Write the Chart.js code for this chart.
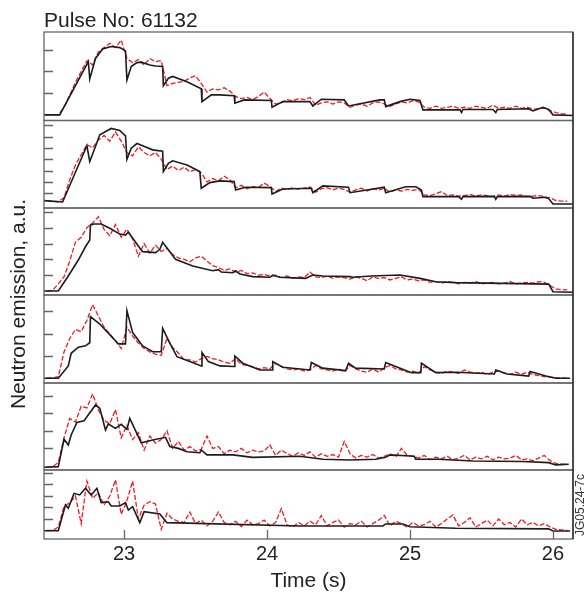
<!DOCTYPE html>
<html>
<head>
<meta charset="utf-8">
<script src="https://cdn.jsdelivr.net/npm/chart.js@4.4.1/dist/chart.umd.min.js"></script>
<style>
html,body{margin:0;padding:0;background:#fff;}
#wrap{position:relative;width:585px;height:592px;}
</style>
</head>
<body>
<div id="wrap"><canvas id="c" width="585" height="592"></canvas></div>
<script>
// ---------- DATA ----------
const pulseTitle = 'Pulse No: 61132';
const xTickValues = [23, 24, 25, 26];

// sampling times of the measured (red dashed) traces
const measTimes = [
22.46,22.50,22.54,22.58,22.62,22.66,22.70,22.74,22.78,22.82,
22.86,22.90,22.94,22.98,23.02,23.06,23.10,23.14,23.18,23.22,
23.26,23.30,23.34,23.38,23.42,23.46,23.50,23.54,23.58,23.62,
23.66,23.70,23.74,23.78,23.82,23.86,23.90,23.94,23.98,24.02,
24.06,24.10,24.14,24.18,24.22,24.26,24.30,24.34,24.38,24.42,
24.46,24.50,24.54,24.58,24.62,24.66,24.70,24.74,24.78,24.82,
24.86,24.90,24.94,24.98,25.02,25.06,25.10,25.14,25.18,25.22,
25.26,25.30,25.34,25.38,25.42,25.46,25.50,25.54,25.58,25.62,
25.66,25.70,25.74,25.78,25.82,25.86,25.90,25.94,25.98,26.02,
26.06,26.10];

// Panel 1
const p1ModelT = [22.44,22.55,22.75,22.76,22.80,22.85,22.91,22.97,23.01,23.02,23.05,23.09,23.12,23.18,23.22,23.27,23.275,23.31,23.34,23.44,23.54,23.545,23.61,23.67,23.77,23.775,23.84,24.03,24.035,24.11,24.30,24.32,24.38,24.54,24.57,24.79,24.82,24.83,24.93,25.00,25.07,25.09,25.35,25.36,25.37,25.58,25.60,25.61,25.83,25.86,25.93,25.97,26.00,26.14];
const p1ModelV = [0,0,2.46,1.65,2.6,3.04,3.15,3.1,2.95,1.61,2.23,2.41,2.43,2.3,2.25,2.23,1.34,1.69,1.77,1.53,1.2,0.61,0.92,0.92,0.88,0.54,0.69,0.66,0.35,0.61,0.61,0.41,0.72,0.69,0.41,0.69,0.69,0.38,0.61,0.72,0.66,0.23,0.23,0.11,0.25,0.25,0.11,0.25,0.28,0.18,0.35,0.25,0,-0.03];
const p1Meas = [
0,0,0,0.35,0.9,1.5,2.0,2.5,2.3,2.9,
3.1,3.3,3.1,3.45,2.6,2.4,2.55,2.3,2.6,2.45,
2.5,1.35,1.45,1.5,1.55,1.7,1.8,1.45,1.05,1.2,
1.15,1.25,1.1,0.85,0.75,0.8,0.7,0.85,1.05,0.75,
0.5,0.55,0.7,0.65,0.75,0.7,0.8,0.45,0.55,0.6,
0.5,0.6,0.55,0.35,0.45,0.5,0.4,0.55,0.6,0.5,
0.4,0.5,0.6,0.55,0.65,0.6,0.35,0.3,0.4,0.3,
0.35,0.4,0.3,0.35,0.3,0.4,0.35,0.3,0.45,0.3,
0.35,0.3,0.4,0.3,0.35,0.25,0.3,0.3,0.2,0.1,
0.05,0.05];

// Panel 2
const p2ModelT = [22.44,22.57,22.74,22.76,22.80,22.83,22.91,22.97,23.01,23.02,23.05,23.09,23.13,23.20,23.27,23.275,23.31,23.34,23.44,23.53,23.54,23.60,23.67,23.77,23.78,23.85,24.03,24.035,24.11,24.31,24.32,24.39,24.57,24.58,24.82,24.83,24.97,25.04,25.08,25.09,25.34,25.36,25.37,25.59,25.60,25.61,25.84,25.86,25.94,25.97,26.00,26.14];
const p2ModelV = [0.35,0.23,5.19,3.8,5.12,6.16,6.72,6.54,6.07,4.0,4.98,5.39,5.19,4.83,4.72,2.91,3.65,3.86,3.5,2.91,1.44,1.94,2.09,2.03,1.29,1.53,1.5,0.94,1.38,1.44,1.05,1.65,1.53,1.05,1.53,1.05,1.58,1.58,1.29,0.7,0.7,0.47,0.7,0.73,0.47,0.7,0.73,0.56,0.65,0.53,0.05,0.05];
const p2Meas = [
0.35,0.3,0.25,0.6,2.2,3.5,4.4,5.3,5.0,5.7,
6.1,5.6,6.4,5.6,4.6,4.3,5.1,4.6,4.3,4.6,
4.0,3.1,3.4,3.0,3.3,2.9,3.1,2.8,2.0,2.3,
2.1,2.5,2.2,1.5,1.7,1.4,1.6,1.5,1.9,1.6,
1.15,1.45,1.3,1.5,1.35,1.45,1.55,1.1,1.4,1.5,
1.3,1.45,1.35,1.1,1.3,1.45,1.2,1.4,1.3,1.45,
1.1,1.3,1.2,1.35,1.25,1.35,0.85,0.8,0.95,1.15,
0.8,0.85,0.75,0.8,0.9,0.75,0.85,0.8,0.7,0.85,
0.75,0.9,0.8,0.85,0.7,0.75,0.8,0.7,0.6,0.35,
0.3,0.3];

// Panel 3
const p3ModelT = [22.44,22.54,22.61,22.68,22.73,22.76,22.765,22.79,22.84,22.90,22.97,23.01,23.03,23.12,23.13,23.22,23.25,23.27,23.36,23.48,23.62,23.66,23.68,23.76,23.78,23.81,23.90,24.02,24.04,24.09,24.27,24.32,24.39,24.58,24.60,24.73,24.93,25.07,25.18,25.32,25.97,26.00,26.14];
const p3ModelV = [0,0,0.95,1.96,2.8,3.23,4.18,4.24,4.24,3.97,3.6,3.54,3.72,2.59,2.49,2.43,2.64,3.08,2.01,1.58,1.28,1.35,1.2,1.16,1.28,1.08,0.91,0.87,1.0,0.87,0.8,1.01,0.95,0.91,0.87,0.95,1.01,0.8,0.59,0.53,0.44,-0.04,-0.08];
const p3Meas = [
0,0.05,0.45,0.9,1.9,3.1,3.4,4.0,4.3,4.7,
3.9,3.5,4.2,3.4,3.9,3.3,2.2,3.0,2.4,2.9,
2.5,2.7,2.3,2.1,2.0,1.85,2.1,2.2,1.9,1.6,
1.5,1.3,1.4,1.2,1.3,1.1,1.15,1.0,1.05,0.95,
1.0,0.85,0.95,0.8,0.9,0.85,1.2,0.9,0.85,0.95,
0.8,0.9,0.85,0.75,0.9,0.8,0.65,0.9,0.8,0.85,
0.7,0.8,0.9,0.7,0.75,0.65,0.7,0.55,0.6,0.5,
0.6,0.55,0.45,0.55,0.5,0.6,0.45,0.5,0.55,0.45,
0.5,0.6,0.45,0.5,0.55,0.5,0.6,0.55,0.35,0.12,
0.1,0.08];

// Panel 4
const p4ModelT = [22.44,22.54,22.61,22.63,22.68,22.73,22.76,22.765,22.83,22.96,23.01,23.02,23.06,23.13,23.20,23.26,23.27,23.32,23.37,23.46,23.54,23.545,23.59,23.67,23.77,23.775,23.83,23.95,24.035,24.04,24.11,24.30,24.31,24.39,24.55,24.57,24.62,24.82,24.83,24.90,25.01,25.075,25.08,25.18,25.33,25.59,25.60,25.68,25.83,25.84,25.95,26.02,26.12];
const p4ModelV = [0.03,0.03,0.58,1.14,1.41,1.47,1.61,2.77,2.44,1.56,1.56,3.04,2.06,1.47,1.21,1.21,2.25,1.59,0.99,0.77,0.58,1.17,0.77,0.58,0.55,1.02,0.7,0.4,0.4,0.77,0.52,0.4,0.73,0.48,0.37,0.7,0.48,0.44,0.73,0.55,0.28,0.28,0.7,0.28,0.3,0.22,0.4,0.22,0.13,0.33,0.13,0.03,0.03];
const p4Meas = [
0.05,0.05,0.1,1.2,1.8,2.2,2.1,2.6,3.3,2.8,
2.3,2.0,1.7,1.35,2.3,1.9,1.6,1.35,1.2,1.1,
1.05,1.8,1.4,1.15,0.85,0.85,0.75,0.9,1.0,0.9,
0.85,0.75,0.7,0.9,0.65,0.6,0.55,0.45,0.5,0.45,
0.7,0.55,0.45,0.4,0.45,0.35,0.4,0.6,0.45,0.4,
0.35,0.45,0.3,0.6,0.45,0.35,0.3,0.45,0.3,0.5,
0.6,0.45,0.4,0.3,0.35,0.25,0.55,0.4,0.3,0.25,
0.35,0.3,0.25,0.4,0.3,0.25,0.3,0.2,0.3,0.35,
0.25,0.2,0.3,0.2,0.3,0.2,0.15,0.1,0.08,0.05,
0.05,0.03];

// Panel 5
const p5ModelT = [22.44,22.54,22.58,22.61,22.63,22.67,22.72,22.80,22.83,22.87,22.89,22.94,22.98,23.02,23.04,23.12,23.20,23.29,23.32,23.38,23.44,23.53,23.54,23.58,23.76,23.90,24.23,24.39,24.58,24.76,24.83,24.86,25.00,25.03,25.04,25.20,25.44,25.79,25.97,26.02,26.11];
const p5ModelV = [-0.07,-0.04,1.52,1.19,1.76,2.48,2.57,3.47,3.28,2.05,2.39,2.14,2.37,2.08,2.71,1.32,1.48,1.63,1.1,1.0,0.81,0.75,0.91,0.63,0.63,0.49,0.55,0.38,0.34,0.38,0.49,0.63,0.57,0.55,0.38,0.38,0.28,0.25,0.19,0.06,0.1];
const p5Meas = [
-0.05,-0.05,0.2,1.6,2.7,2.5,3.4,3.3,4.1,3.2,
2.6,2.4,3.2,1.6,2.3,1.5,1.9,0.9,1.7,1.3,
1.5,2.0,1.0,1.4,0.9,1.1,0.85,0.95,1.7,1.0,
1.1,0.7,0.9,0.8,1.0,0.75,0.9,0.8,0.85,1.2,
0.6,0.9,0.7,0.55,0.75,0.6,0.8,0.5,0.7,0.55,
0.65,0.5,1.4,0.7,0.45,0.6,0.5,0.65,0.45,0.55,
0.7,0.5,1.0,0.6,0.55,0.45,0.6,0.35,0.5,0.4,
0.55,0.35,0.45,0.6,0.35,0.5,0.4,0.55,0.35,0.5,
0.4,0.45,0.6,0.35,0.4,0.3,0.45,0.6,0.3,0.15,
0.1,0.1];

// Panel 6
const p6ModelT = [22.44,22.54,22.59,22.61,22.65,22.69,22.73,22.77,22.81,22.84,22.89,22.91,22.97,23.01,23.03,23.06,23.11,23.14,23.25,23.30,24.23,24.81,24.83,24.95,25.00,25.32,25.97,26.00,26.12];
const p6ModelV = [-0.02,-0.02,2.22,1.93,3.23,3.09,3.67,3.09,3.67,2.42,2.5,2.13,2.13,2.42,1.78,2.07,0.68,1.64,1.43,0.68,0.39,0.39,0.57,0.57,0.33,0.19,0.14,-0.04,-0.04];
const p6Meas = [
0,0,0.3,2.1,2.4,3.0,0.6,4.3,2.8,3.3,
2.2,3.0,4.4,1.4,2.6,4.3,1.0,2.2,2.5,2.3,
0.1,1.5,1.0,0.8,0.7,1.6,0.6,0.9,0.4,0.8,
1.6,0.7,0.5,0.8,0.35,0.9,0.5,0.6,0.9,0.4,
0.7,1.9,0.5,0.3,0.7,0.4,0.8,0.5,1.3,0.4,
0.7,0.9,0.3,0.6,0.5,0.8,0.3,0.6,0.9,1.3,
0.4,0.8,0.6,0.3,0.7,0.4,0.5,0.8,0.3,0.6,
1.0,1.35,0.4,0.7,1.1,0.3,0.6,0.9,0.4,1.0,
0.5,0.7,0.3,1.0,0.5,0.7,0.4,0.6,0.3,0.1,
0.05,0];

// y-axis ranges (a.u.) and tick values for each panel, top to bottom
const panelMin = [-0.26,-0.3,-0.25,-0.18,-0.23,-0.74];
const panelMax = [3.82,7.42,5.25,3.73,4.72,5.26];
const panelTicks = [[1,2,3],[1,2,3,4,5,6,7],[1,2,3,4,5],[1,2,3],[1,2,3,4],[1,2,3,4,5]];
const panelWeight = [88.5,87.5,87,88,87,69];

// ---------- CHART ----------
const FONT = '"Liberation Sans", Arial, Helvetica, sans-serif';
const modelT = [p1ModelT,p2ModelT,p3ModelT,p4ModelT,p5ModelT,p6ModelT];
const modelV = [p1ModelV,p2ModelV,p3ModelV,p4ModelV,p5ModelV,p6ModelV];
const measV = [p1Meas,p2Meas,p3Meas,p4Meas,p5Meas,p6Meas];
const ids = ['y1','y2','y3','y4','y5','y6'];

const datasets = [];
ids.forEach((id,k)=>{
  datasets.push({
    label:'model '+(k+1), yAxisID:id, xAxisID:'x',
    data: modelT[k].map((t,i)=>({x:t,y:modelV[k][i]})),
    borderColor:'#1c1c1c', borderWidth:1.6, pointRadius:0, tension:0, order:0, fill:false
  });
  datasets.push({
    label:'measured '+(k+1), yAxisID:id, xAxisID:'x',
    data: measTimes.map((t,i)=>({x:t,y:measV[k][i]})),
    borderColor:'#ec1c24', borderWidth:1.3, borderDash:[5,2], pointRadius:0, tension:0, order:1, fill:false
  });
});

const scales = {
  x: {
    type:'linear', position:'bottom', min:22.44, max:26.14,
    afterBuildTicks: (s)=>{ s.ticks = xTickValues.map(v=>({value:v})); },
    afterFit: (s)=>{ s.height = 53; },
    grid:{display:false, drawTicks:false}, border:{display:false},
    ticks:{color:'#222', font:{family:FONT, size:20, lineHeight:1.2}, padding:3, callback:(v)=>String(v)},
    title:{display:true, text:'Time (s)', color:'#222', font:{family:FONT, size:21, lineHeight:1.0}, padding:{top:3,bottom:0}}
  }
};
// stacked y axes, defined bottom panel first
for (let k=5;k>=0;k--){
  scales[ids[k]] = {
    type:'linear', position:'left', stack:'panels', stackWeight:panelWeight[k],
    min:panelMin[k], max:panelMax[k],
    grid:{display:false, drawTicks:false}, border:{display:false},
    ticks:{display:false}
  };
}

const framePlugin = {
  id:'frames',
  afterDatasetsDraw(chart){
    const ctx = chart.ctx, a = chart.chartArea;
    ctx.save();
    ctx.strokeStyle = '#666'; ctx.lineWidth = 1.3;
    ids.forEach((id,k)=>{
      const s = chart.scales[id];
      ctx.strokeRect(a.left, s.top, a.right-a.left, s.bottom-s.top);
      ctx.beginPath();
      panelTicks[k].forEach(v=>{
        const y = Math.round(s.getPixelForValue(v))+0.5;
        ctx.moveTo(a.left, y); ctx.lineTo(a.left+9, y);
      });
      ctx.stroke();
    });
    const xs = chart.scales.x, sb = chart.scales[ids[5]];
    ctx.beginPath();
    xTickValues.forEach(v=>{
      const x = Math.round(xs.getPixelForValue(v))+0.5;
      ctx.moveTo(x, sb.bottom); ctx.lineTo(x, sb.bottom-9);
    });
    ctx.stroke();
    ctx.strokeStyle = '#222'; ctx.lineWidth=1.3;
    ctx.beginPath(); ctx.moveTo(a.right, a.top); ctx.lineTo(a.right, a.bottom); ctx.stroke();

    ctx.fillStyle = '#222';
    ctx.font = '21px '+FONT; ctx.textAlign='left'; ctx.textBaseline='alphabetic';
    ctx.fillText(pulseTitle, a.left, a.top-5);

    ctx.save();
    ctx.translate(19, 304); ctx.rotate(-Math.PI/2);
    ctx.font = '21px '+FONT; ctx.textAlign='center'; ctx.textBaseline='middle';
    ctx.fillText('Neutron emission, a.u.', 0, 0);
    ctx.restore();

    ctx.save();
    ctx.translate(581, 505); ctx.rotate(-Math.PI/2);
    ctx.font = '12px '+FONT; ctx.textAlign='center'; ctx.textBaseline='middle';
    ctx.fillStyle='#333';
    ctx.fillText('JG05.24-7c', 0, 0);
    ctx.restore();
    ctx.restore();
  }
};

new Chart(document.getElementById('c'), {
  type:'line',
  data:{datasets},
  options:{
    responsive:false, animation:false, devicePixelRatio:1,
    layout:{padding:{left:44, right:12, top:32, bottom:0}},
    plugins:{legend:{display:false}, title:{display:false}, tooltip:{enabled:false}},
    scales
  },
  plugins:[framePlugin]
});
</script>
</body>
</html>
